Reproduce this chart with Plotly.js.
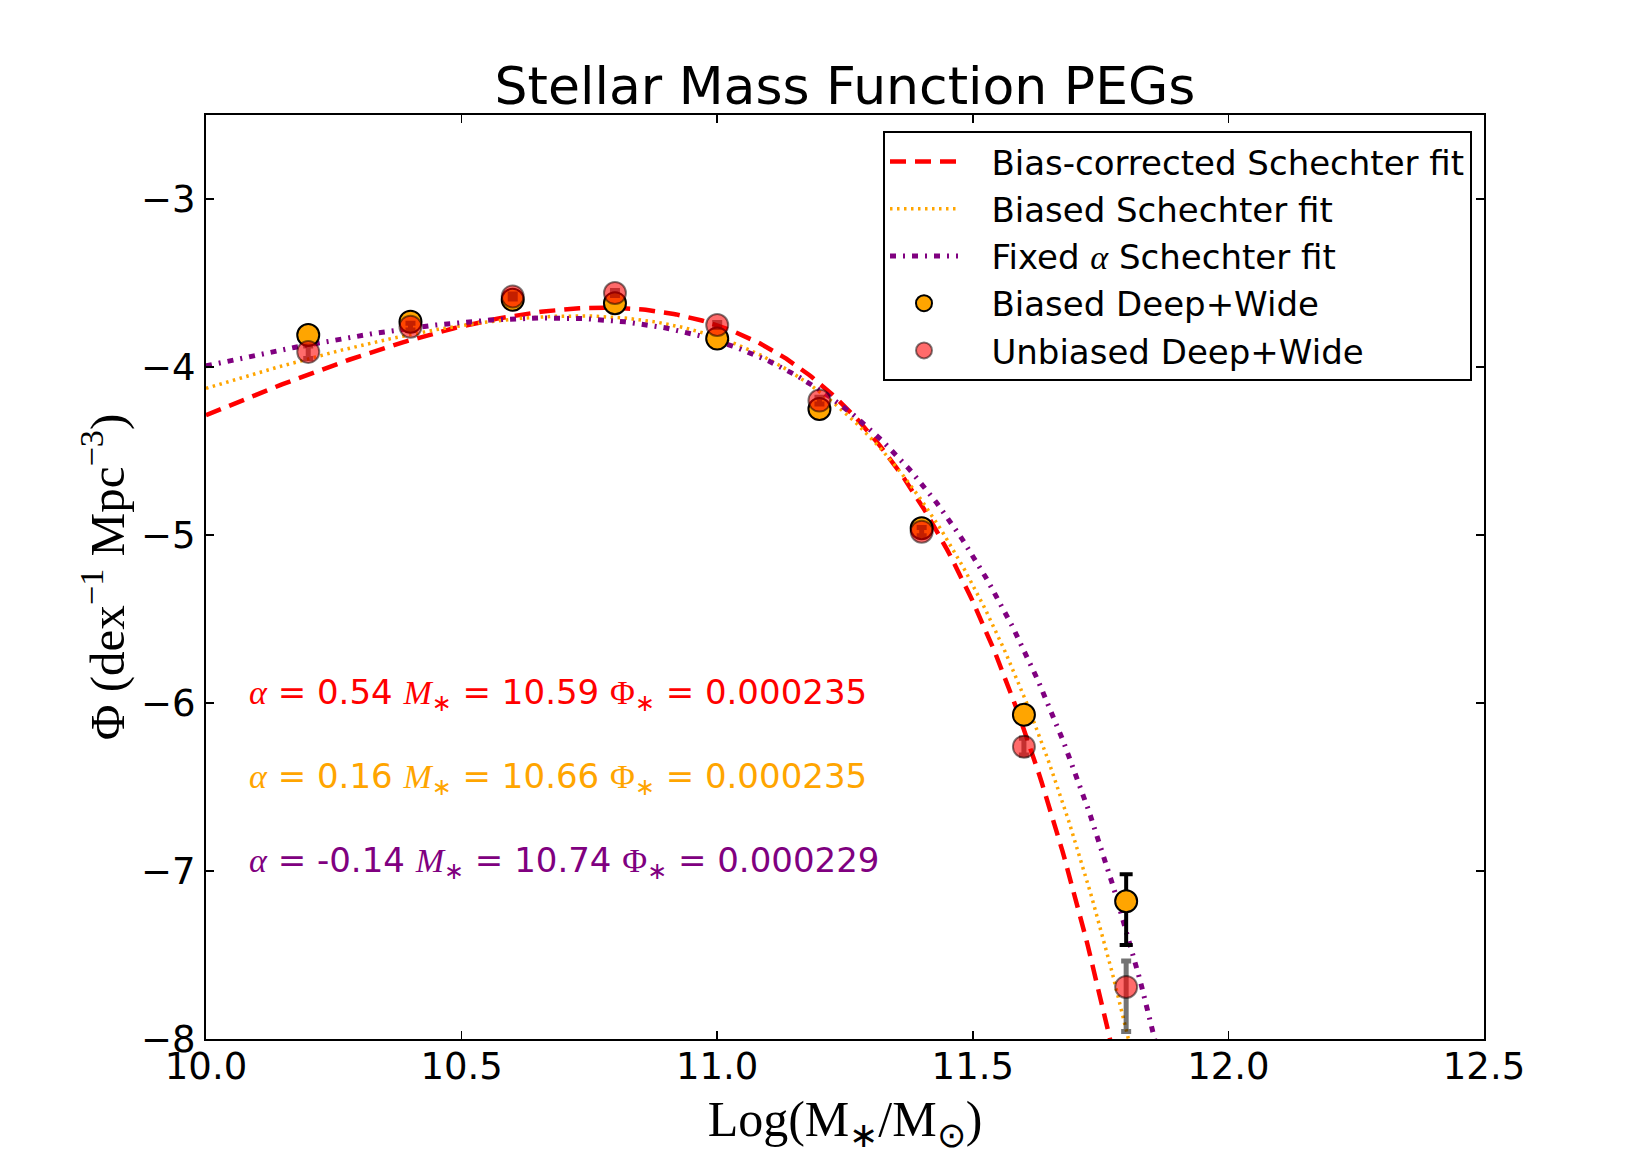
<!DOCTYPE html>
<html>
<head>
<meta charset="utf-8">
<script src="https://cdn.plot.ly/plotly-3.0.1.min.js"></script>
<style>
  html, body { margin: 0; padding: 0; background: #ffffff; }
  #chart { width: 1650px; height: 1155px; }
</style>
</head>
<body>
<div id="chart"></div>
<script>
// Binned stellar mass function of passive early-type galaxies (log10 of number density)
const logMass = [10.2, 10.4, 10.6, 10.8, 11.0, 11.2, 11.4, 11.6, 11.8];

const biasedPhi      = [-3.81, -3.73, -3.60, -3.62, -3.83, -4.25, -4.96, -6.07, -7.18];
const biasedErrUp    = [0.02, 0.015, 0.012, 0.012, 0.012, 0.015, 0.02, 0.035, 0.16];
const biasedErrDown  = [0.02, 0.015, 0.012, 0.012, 0.012, 0.015, 0.02, 0.04, 0.26];

const unbiasedPhi     = [-3.91, -3.76, -3.58, -3.56, -3.75, -4.20, -4.98, -6.26, -7.69];
const unbiasedErrUp   = [0.035, 0.02, 0.015, 0.015, 0.015, 0.02, 0.025, 0.05, 0.155];
const unbiasedErrDown = [0.04, 0.02, 0.015, 0.015, 0.015, 0.02, 0.025, 0.05, 0.265];

// Schechter fit parameters (alpha, log M*, Phi*)
const fitNames   = ['Bias-corrected Schechter fit', 'Biased Schechter fit', 'Fixed <span style="font-family:\'Liberation Serif\';font-style:italic">α</span> Schechter fit'];
const fitAlpha   = [0.54, 0.16, -0.14];
const fitMstar   = [10.59, 10.66, 10.74];
const fitPhiStar = [0.000235, 0.000235, 0.000229];
const fitColors  = ['#ff0000', '#ffa500', '#800080'];
const fitDashes  = ['16px,9px', '2.5px,4.5px', '6px,7px,2px,7px'];
const fitWidths  = [4.5, 3.5, 5];

const pointNames = ['Biased Deep+Wide', 'Unbiased Deep+Wide'];

const xTicks = [10.0, 10.5, 11.0, 11.5, 12.0, 12.5];
const yTicks = [-3, -4, -5, -6, -7, -8];

// gap between legend symbols and their labels
const legendPad = '\u00a0\u00a0\u2009';

// log10 of the Schechter function expressed per dex
function logSchechter(m, alpha, mStar, phiStar) {
  const r = Math.pow(10, m - mStar);
  return Math.log10(Math.LN10 * phiStar * Math.pow(r, alpha + 1) * Math.exp(-r));
}

const massGrid = [];
for (let i = 0; i <= 400; i++) massGrid.push(10 + i * 0.005);

const traces = [];
for (let k = 0; k < fitAlpha.length; k++) {
  traces.push({
    x: massGrid,
    y: massGrid.map(m => logSchechter(m, fitAlpha[k], fitMstar[k], fitPhiStar[k])),
    mode: 'lines',
    name: legendPad + fitNames[k],
    line: { color: fitColors[k], width: fitWidths[k], dash: fitDashes[k] },
    hoverinfo: 'skip'
  });
}

traces.push({
  x: logMass,
  y: biasedPhi,
  mode: 'markers',
  name: legendPad + pointNames[0],
  marker: { color: '#ffa500', size: 22, line: { color: '#000000', width: 2 } },
  error_y: { type: 'data', symmetric: false, array: biasedErrUp, arrayminus: biasedErrDown,
             color: '#000000', thickness: 4, width: 6.5 }
});

traces.push({
  x: logMass,
  y: unbiasedPhi,
  mode: 'markers',
  name: legendPad + pointNames[1],
  marker: { color: 'rgba(255,0,0,0.58)', size: 22, line: { color: 'rgba(0,0,0,0.5)', width: 2 } },
  error_y: { type: 'data', symmetric: false, array: unbiasedErrUp, arrayminus: unbiasedErrDown,
             color: 'rgba(0,0,0,0.55)', thickness: 5, width: 5 }
});

const serifI = s => '<span style="font-family:\'Liberation Serif\';font-style:italic">' + s + '</span>';
const serif  = s => '<span style="font-family:\'Liberation Serif\'">' + s + '</span>';

const fitLabelY = [-6, -6.5, -7];
const annotations = fitAlpha.map((a, k) => ({
  x: 10.08,
  y: fitLabelY[k],
  xref: 'x', yref: 'y',
  xanchor: 'left', yanchor: 'middle',
  yshift: 9,
  showarrow: false,
  text: serifI('α') + ' = ' + a.toFixed(2) + ' ' + serifI('M') + '<sub>∗</sub> = ' +
        fitMstar[k].toFixed(2) + ' ' + serif('Φ') + '<sub>∗</sub> = ' + fitPhiStar[k].toFixed(6),
  font: { family: 'DejaVu Sans', size: 34, color: fitColors[k] }
}));

const axisCommon = {
  showgrid: false,
  zeroline: false,
  showline: true,
  linecolor: '#000000',
  linewidth: 2,
  mirror: 'ticks',
  ticks: 'inside',
  ticklen: 8,
  tickwidth: 1.5,
  tickcolor: '#000000',
  tickfont: { family: 'DejaVu Sans', size: 37, color: '#000000' }
};

const layout = {
  width: 1650,
  height: 1155,
  paper_bgcolor: '#ffffff',
  plot_bgcolor: '#ffffff',
  margin: { l: 206, r: 166, t: 115, b: 116 },
  title: {
    text: 'Stellar Mass Function PEGs',
    font: { family: 'DejaVu Sans', size: 52, color: '#000000' },
    x: 0.5, xref: 'paper', xanchor: 'center',
    y: 1 - 86 / 1155, yref: 'container', yanchor: 'middle'
  },
  xaxis: Object.assign({}, axisCommon, {
    range: [10, 12.5],
    tickvals: xTicks,
    tickformat: '.1f',
    ticklabelstandoff: -6,
    title: { text: 'Log(M<sub>∗</sub>/M<sub>⊙</sub>)', standoff: 26,
             font: { family: 'Liberation Serif', size: 50, color: '#000000' } }
  }),
  yaxis: Object.assign({}, axisCommon, {
    range: [-8, -2.5],
    tickvals: yTicks,
    ticklabelstandoff: 1,
    title: { text: 'Φ (dex<sup>−1</sup> Mpc<sup>−3</sup>)', standoff: 1,
             font: { family: 'Liberation Serif', size: 49, color: '#000000' } }
  }),
  legend: {
    x: (883 - 206) / 1278, y: (1039 - 131) / 924,
    xanchor: 'left', yanchor: 'top',
    bgcolor: '#ffffff',
    bordercolor: '#000000',
    borderwidth: 2,
    itemwidth: 68,
    font: { family: 'DejaVu Sans', size: 34, color: '#000000' }
  },
  showlegend: true,
  annotations: annotations
};

Plotly.newPlot('chart', traces, layout, { staticPlot: true });
</script>
</body>
</html>
